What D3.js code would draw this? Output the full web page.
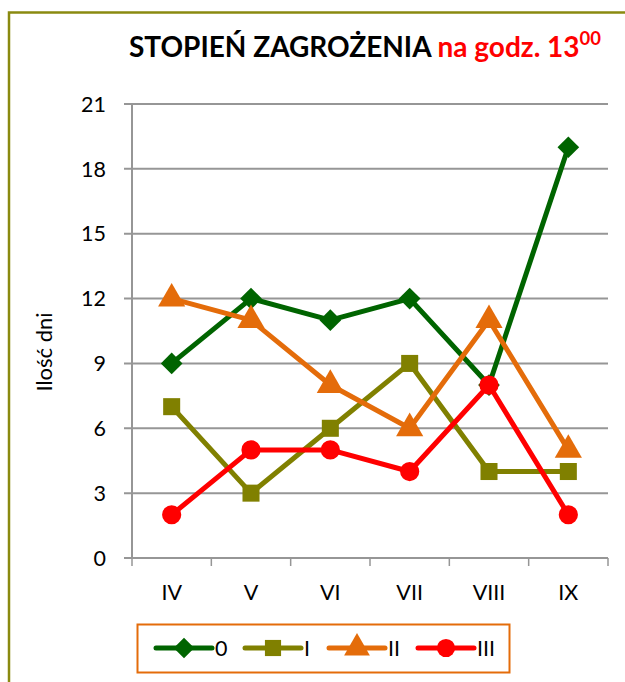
<!DOCTYPE html>
<html><head><meta charset="utf-8">
<script src="https://cdn.jsdelivr.net/npm/d3@7"></script>
<style>body{margin:0;background:#fff;} svg{display:block;} text{font-family:Lato,"Open Sans",sans-serif;}</style>
</head><body>
<script>
const categories = ["IV","V","VI","VII","VIII","IX"];
const seriesNames = ["0","I","II","III"];
const s0 = [9,12,11,12,8,19];
const s1 = [7,3,6,9,4,4];
const s2 = [12,11,8,6,11,5];
const s3 = [2,5,5,4,8,2];
const yTicks = [0,3,6,9,12,15,18,21];
const colors = ["#006400","#808000","#E46C0A","#FF0000"];
const symbols = [d3.symbolDiamond2, d3.symbolSquare, d3.symbolTriangle, d3.symbolCircle];
const seriesValues = [s0,s1,s2,s3];

(function(){
const W=625,H=682;
const svg=d3.select("body").append("svg").attr("width",W).attr("height",H);
const tickFS = 21.5, axisFS = 22, legFS = 21.5, titleFS = 28;

svg.append("rect").attr("x",9).attr("y",12.5).attr("width",700).attr("height",700)
  .attr("fill","none").attr("stroke","#8a8a10").attr("stroke-width",2.5);

const pL=132,pR=608,pT=104,pB=558;
const x=d3.scaleBand().domain(categories).range([pL,pR]);
const y=d3.scaleLinear().domain([0,21]).range([pB,pT]);

svg.append("g").selectAll("line").data(yTicks).join("line")
  .attr("x1",pL-8).attr("x2",pR).attr("y1",d=>y(d)).attr("y2",d=>y(d))
  .attr("stroke","#969696").attr("stroke-width",2);
svg.append("line").attr("x1",pL).attr("x2",pL).attr("y1",pT).attr("y2",pB+1)
  .attr("stroke","#969696").attr("stroke-width",2);
const edges=categories.map(c=>x(c)).concat([pR]);
svg.append("g").selectAll("line").data(edges).join("line")
  .attr("x1",d=>d).attr("x2",d=>d).attr("y1",pB).attr("y2",pB+8)
  .attr("stroke","#969696").attr("stroke-width",1.5);
svg.append("g").selectAll("text").data(yTicks).join("text")
  .attr("x",106).attr("y",d=>y(d)).attr("dy","0.36em").attr("text-anchor","end")
  .attr("font-size",tickFS).attr("fill","#000").text(d=>d);
svg.append("g").selectAll("text").data(categories).join("text")
  .attr("x",d=>x(d)+x.bandwidth()/2).attr("y",600).attr("text-anchor","middle")
  .attr("font-size",tickFS).attr("fill","#000").text(d=>d);
svg.append("text").attr("transform","translate(52,352) rotate(-90)").attr("text-anchor","middle")
  .attr("font-size",axisFS).text("Ilość dni");

const t=svg.append("text").attr("x",365).attr("y",57).attr("text-anchor","middle").attr("font-weight","bold").attr("font-size",titleFS);
t.append("tspan").attr("fill","#000").text("STOPIEŃ ZAGROŻENIA ");
t.append("tspan").attr("fill","#FF0000").text("na godz. 13");
t.append("tspan").attr("fill","#FF0000").attr("font-size",titleFS*0.66).attr("dy",-titleFS*0.42).text("00");

const line=d3.line().x((d,i)=>x(categories[i])+x.bandwidth()/2).y(d=>y(d));
const sizes=[300,290,320,290];
seriesValues.forEach((vals,k)=>{
  const g=svg.append("g");
  g.append("path").attr("d",line(vals)).attr("fill","none").attr("stroke",colors[k])
    .attr("stroke-width",5).attr("stroke-linejoin","round");
  g.selectAll("path.m").data(vals).join("path").attr("class","m")
    .attr("transform",(d,i)=>`translate(${x(categories[i])+x.bandwidth()/2},${y(d)})`)
    .attr("d",d3.symbol().type(symbols[k]).size(sizes[k])).attr("fill",colors[k]);
});

svg.append("rect").attr("x",137.5).attr("y",624.5).attr("width",372).attr("height",48)
  .attr("fill","#fff").attr("stroke","#E46C0A").attr("stroke-width",2);
const legX=[156,245,329,418];
seriesNames.forEach((n,k)=>{
  const g=svg.append("g").attr("transform",`translate(${legX[k]},648)`);
  g.append("line").attr("x1",0).attr("x2",56).attr("stroke",colors[k]).attr("stroke-width",5).attr("stroke-linecap","round");
  g.append("path").attr("transform","translate(28,0)").attr("d",d3.symbol().type(symbols[k]).size(sizes[k]*0.9)).attr("fill",colors[k]);
  g.append("text").attr("x",59).attr("y",0).attr("dy","0.36em").attr("font-size",legFS).text(n);
});
})();
</script>
</body></html>
